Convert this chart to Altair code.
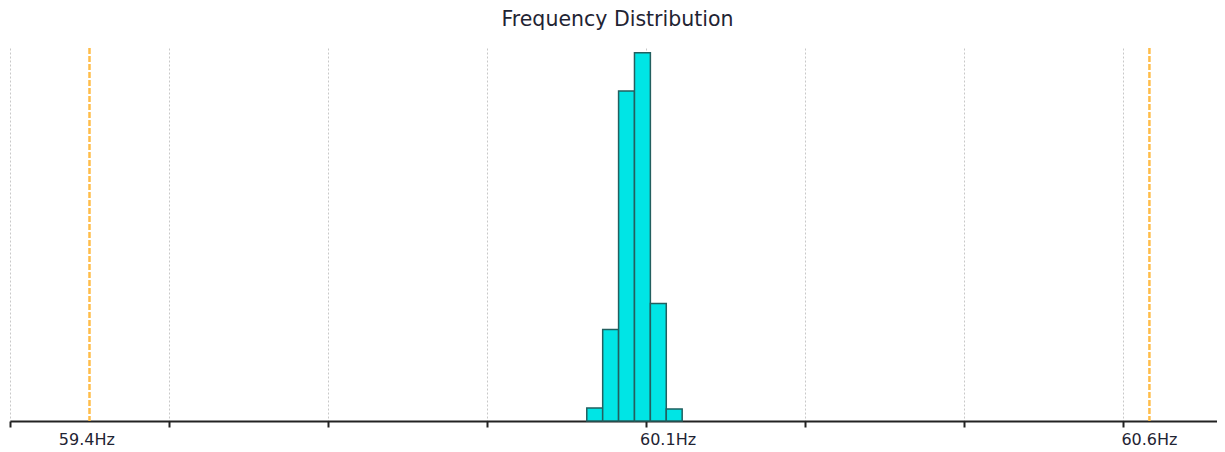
import altair as alt
import pandas as pd

# Histogram bins (Hz) and share of samples (%)
bin_start = [59.963, 59.981, 59.999, 60.017, 60.035, 60.053]
bin_end = [59.981, 59.999, 60.017, 60.035, 60.053, 60.071]
share_pct = [1.4, 9.8, 35.4, 39.5, 12.6, 1.3]

# Limit lines (Hz)
limits = [59.4, 60.6]

# Axis gridline / tick positions (Hz)
grid_values = [59.31, 59.49, 59.67, 59.85, 60.03, 60.21, 60.39, 60.57]

# Annotated labels on the x axis
label_pos = [59.397, 60.055, 60.6]
label_text = ["59.4Hz", "60.1Hz", "60.6Hz"]

x_domain = [59.31, 60.6765]
y_domain = [0, 40]

W, H = 1207, 373
FONT = "DejaVu Sans"
TEXT_COLOR = "#1f2433"

bars_df = pd.DataFrame({"start": bin_start, "end": bin_end, "pct": share_pct})
lim_df = pd.DataFrame({"limit": limits})
lab_df = pd.DataFrame({"pos": label_pos, "label": label_text})

xscale = alt.Scale(domain=x_domain, nice=False, zero=False)
yscale = alt.Scale(domain=y_domain, nice=False)

x_axis = alt.Axis(
    values=grid_values,
    labels=False,
    title=None,
    grid=True,
    gridColor="#c8c8c8",
    gridDash=[2, 2],
    gridWidth=1,
    ticks=True,
    tickSize=6,
    tickWidth=2,
    tickColor="#222222",
    domainColor="#222222",
    domainWidth=2,
)

bars = alt.Chart(bars_df).mark_bar(
    fill="#00e5e5", stroke="#235f5f", strokeWidth=1.5
).encode(
    x=alt.X("start:Q", scale=xscale, axis=x_axis),
    x2="end:Q",
    y=alt.Y("pct:Q", scale=yscale, axis=None),
    y2=alt.datum(0),
)

rules = alt.Chart(lim_df).mark_rule(
    color="#ffbd4a", strokeWidth=2.5, strokeDash=[6, 2]
).encode(x=alt.X("limit:Q", scale=xscale))

labels = alt.Chart(lab_df).mark_text(
    font=FONT, fontSize=16, color=TEXT_COLOR, align="center", baseline="alphabetic"
).encode(
    x=alt.X("pos:Q", scale=xscale),
    y=alt.value(H + 24),
    text="label:N",
)

chart = (
    alt.layer(rules, bars, labels)
    .properties(
        width=W,
        height=H,
        title=alt.TitleParams(
            "Frequency Distribution",
            font=FONT,
            fontSize=20.5,
            fontWeight="normal",
            color=TEXT_COLOR,
            anchor="middle",
            offset=16,
            dx=4,
        ),
        autosize=alt.AutoSizeParams(type="none"),
        padding={"left": 2, "top": 40, "right": 0, "bottom": 30},
    )
    .configure_view(stroke=None)
)

chart.save("out.html", embed_options={"renderer": "svg", "actions": False})
